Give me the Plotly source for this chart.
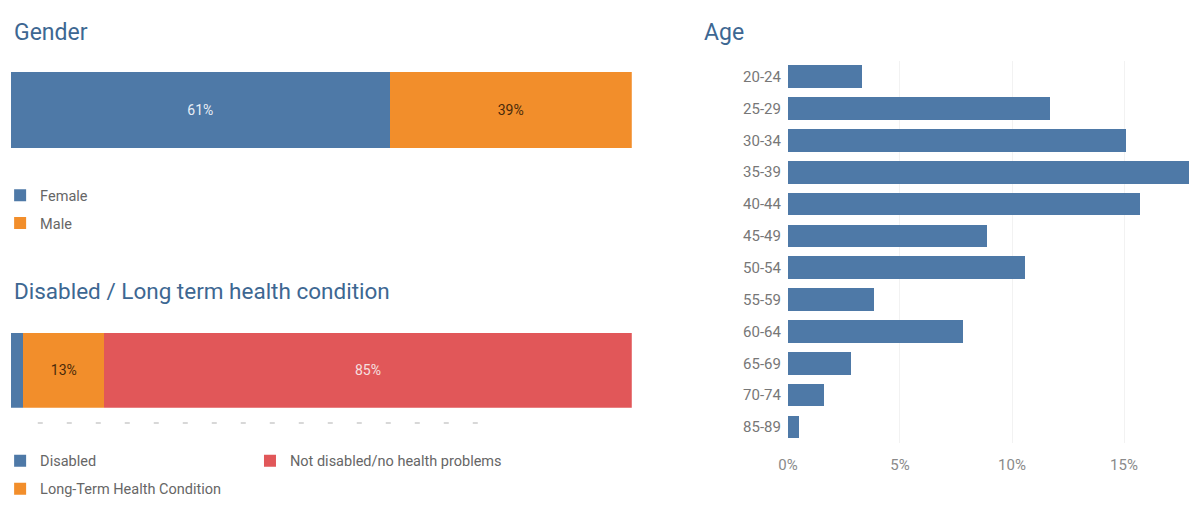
import plotly.graph_objects as go

# ---------------- data ----------------
gender_labels = ["Female", "Male"]
gender_values = [61, 39]

health_labels = ["Disabled", "Long-Term Health Condition", "Not disabled/no health problems"]
health_values = [2, 13, 85]
health_text = ["", "13%", "85%"]

age_groups = ["20-24", "25-29", "30-34", "35-39", "40-44", "45-49", "50-54",
              "55-59", "60-64", "65-69", "70-74", "85-89"]
age_values = [3.3, 11.7, 15.1, 17.9, 15.7, 8.9, 10.6, 3.85, 7.8, 2.8, 1.6, 0.5]

age_ticks = [0, 5, 10, 15]
age_ticklabels = ["0%", "5%", "10%", "15%"]

# ---------------- style ----------------
BLUE = "#4e79a7"
ORANGE = "#f28e2b"
RED = "#e15759"
TITLE_COLOR = "#3d6792"
FONT = "Roboto, Arial, sans-serif"
W, H = 1200, 505


def px_x(p):
    return p / W


def px_y(p):
    return 1 - p / H


fig = go.Figure()

g_colors = [BLUE, ORANGE]
g_txtcol = ["#e8eef6", "#4a2a0a"]
for lab, val, col, tc in zip(gender_labels, gender_values, g_colors, g_txtcol):
    fig.add_trace(go.Bar(
        x=[val], y=["g"], orientation="h", name=lab,
        marker=dict(color=col, line=dict(width=0)),
        text=[f"{val}%"], textposition="inside", insidetextanchor="middle",
        textfont=dict(color=tc, size=14, family=FONT),
        xaxis="x", yaxis="y", legend="legend", legendgroup=lab,
        width=1, hoverinfo="skip",
    ))

h_colors = [BLUE, ORANGE, RED]
h_txtcol = ["#ffffff", "#4a2a0a", "#f6e0e0"]
h_legend = ["legend2", "legend2", "legend3"]
for lab, val, txt, col, tc, lg in zip(health_labels, health_values, health_text,
                                      h_colors, h_txtcol, h_legend):
    fig.add_trace(go.Bar(
        x=[val], y=["h"], orientation="h", name=lab,
        marker=dict(color=col, line=dict(width=0)),
        text=[txt], textposition="inside", insidetextanchor="middle",
        textfont=dict(color=tc, size=14, family=FONT),
        xaxis="x2", yaxis="y2", legend=lg, legendgroup=lab,
        width=1, hoverinfo="skip",
    ))

fig.add_trace(go.Bar(
    x=age_values, y=age_groups, orientation="h",
    marker=dict(color=BLUE, line=dict(width=0)),
    xaxis="x3", yaxis="y3", showlegend=False, hoverinfo="skip",
))

legend_common = dict(
    font=dict(size=14.5, color="#666666", family=FONT),
    bgcolor="rgba(0,0,0,0)", tracegroupgap=6, itemwidth=30,
    xanchor="left", yanchor="top", orientation="v",
)

fig.update_layout(
    width=W, height=H,
    margin=dict(l=0, r=0, t=0, b=0),
    paper_bgcolor="white", plot_bgcolor="white",
    barmode="stack", bargap=0.29,
    font=dict(family=FONT, color="#666666"),
    xaxis=dict(domain=[px_x(1), px_x(627)], range=[0, 100], visible=False, fixedrange=True),
    yaxis=dict(domain=[px_y(156), px_y(76)], range=[-0.5, 0.5], visible=False, fixedrange=True),
    xaxis2=dict(domain=[px_x(1), px_x(627)], range=[0, 100], visible=False, fixedrange=True,
                anchor="y2"),
    yaxis2=dict(domain=[px_y(430), px_y(351)], range=[-0.5, 0.5], visible=False, fixedrange=True,
                anchor="x2"),
    xaxis3=dict(domain=[px_x(784.5), px_x(1200)], range=[0, 18.39], anchor="y3",
                tickvals=age_ticks, ticktext=age_ticklabels,
                showgrid=True, gridcolor="#f2f2f2", gridwidth=1, zeroline=False,
                showline=False, ticks="outside", ticklen=8, tickcolor="rgba(0,0,0,0)",
                tickfont=dict(size=15, color="#8a8a8a", family=FONT)),
    yaxis3=dict(domain=[px_y(467), px_y(64)], anchor="x3", autorange="reversed",
                categoryorder="array", categoryarray=age_groups,
                showgrid=False, zeroline=False, showline=False,
                ticks="outside", ticklen=3, tickcolor="rgba(0,0,0,0)",
                tickfont=dict(size=15, color="#777777", family=FONT)),
    legend=dict(x=-0.0083, y=px_y(189), **legend_common),
    legend2=dict(x=-0.0083, y=px_y(469), **legend_common),
    legend3=dict(x=px_x(242), y=px_y(469), **legend_common),
    annotations=[
        dict(text="Gender", x=px_x(2), y=px_y(34), xref="paper", yref="paper",
             xanchor="left", yanchor="middle", showarrow=False,
             font=dict(size=23, color=TITLE_COLOR, family=FONT)),
        dict(text="Disabled / Long term health condition", x=px_x(2), y=px_y(307),
             xref="paper", yref="paper", xanchor="left", yanchor="middle", showarrow=False,
             font=dict(size=22.5, color=TITLE_COLOR, family=FONT)),
        dict(text="Age", x=px_x(698), y=px_y(34), xref="paper", yref="paper",
             xanchor="left", yanchor="middle", showarrow=False,
             font=dict(size=23, color=TITLE_COLOR, family=FONT)),
    ],
    shapes=[
        dict(type="line", xref="paper", yref="paper", x0=px_x(28), x1=px_x(491),
             y0=px_y(446), y1=px_y(446),
             line=dict(color="#d8d8d8", width=2, dash="5px,24px")),
    ],
)

fig.write_html("out.html")
